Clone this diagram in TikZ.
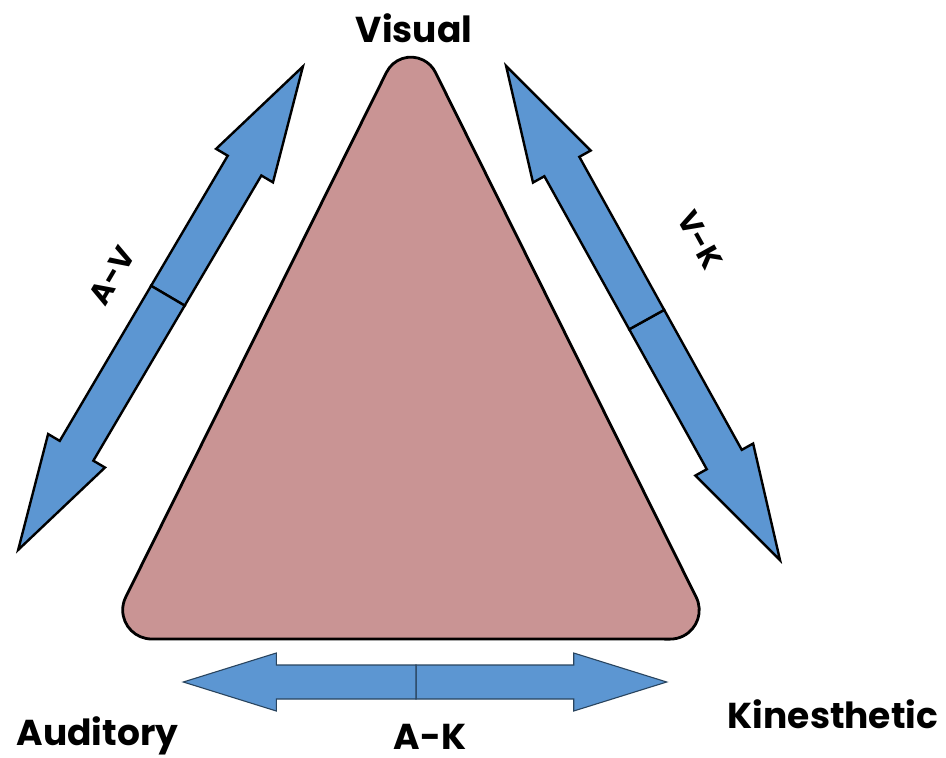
\documentclass[tikz,border=0pt]{standalone}
\usepackage{fontspec}
\setmainfont{Poppins}
\definecolor{tri}{RGB}{201,148,148}
\definecolor{arr}{RGB}{92,150,210}
\tikzset{
  tribox/.style={draw=black, line width=2.8pt, fill=tri},
  sidearrow/.style={draw=black, line width=2.4pt, fill=arr, line join=miter},
  flatarrow/.style={draw=black!55!arr, line width=1.1pt, fill=arr},
  lbl/.style={font=\fontsize{36}{40}\selectfont\bfseries, text=black, inner sep=0pt},
  sidelbl/.style={font=\fontsize{30}{34}\selectfont\bfseries, text=black, inner sep=0pt}
}
% #1 style, #2 front length, #3 back length, #4 head length, #5 head half width, #6 shaft half width
\newcommand{\dblarrow}[6]{%
  \path[#1] (0,-#6) -- ({#2-#4},-#6) -- ({#2-#4},-#5) -- (#2,0) -- ({#2-#4},#5) -- ({#2-#4},#6) -- (0,#6) -- cycle;
  \path[#1] (0,-#6) -- ({-#3+#4},-#6) -- ({-#3+#4},-#5) -- (-#3,0) -- ({-#3+#4},#5) -- ({-#3+#4},#6) -- (0,#6) -- cycle;
}
\begin{document}
\begin{tikzpicture}[x=1pt,y=-1pt]
\useasboundingbox (0,0) rectangle (946,758);
\fill[white] (0,0) rectangle (946,758);
% triangle
\path[tribox] (386.5,72.3) arc[start angle=206.4, end angle=333.6, radius=27.3]
  -- (696.2,597.2) arc[start angle=-26.4, end angle=90, radius=29]
  -- (151.7,639) arc[start angle=90, end angle=206.4, radius=29] -- cycle;
% A-V arrow
\begin{scope}[shift={(167.9,295.7)}, rotate=59.5]
  \dblarrow{sidearrow}{266}{295}{115}{33}{19.5}
\end{scope}
% V-K arrow
\begin{scope}[shift={(646.7,319.6)}, rotate=-61]
  \dblarrow{sidearrow}{275}{290}{115}{33}{20}
\end{scope}
% A-K arrow
\begin{scope}[shift={(416,682)}]
  \dblarrow{flatarrow}{250.7}{232.7}{93}{29}{17}
\end{scope}
% labels
\node[lbl, anchor=base] (visual) at (414,42) {Visual};
\node[lbl, anchor=base] (auditory) at (97.5,745) {Auditory};
\node[lbl, anchor=base] (kin) at (833,728) {Kinesthetic};
\node[lbl, anchor=base] (ak) at (430,749) {A-K};
\node[sidelbl, rotate=59.5] (av) at (112,276) {A-V};
\node[sidelbl, rotate=-61] (vk) at (700,240) {V-K};
\end{tikzpicture}
\end{document}
